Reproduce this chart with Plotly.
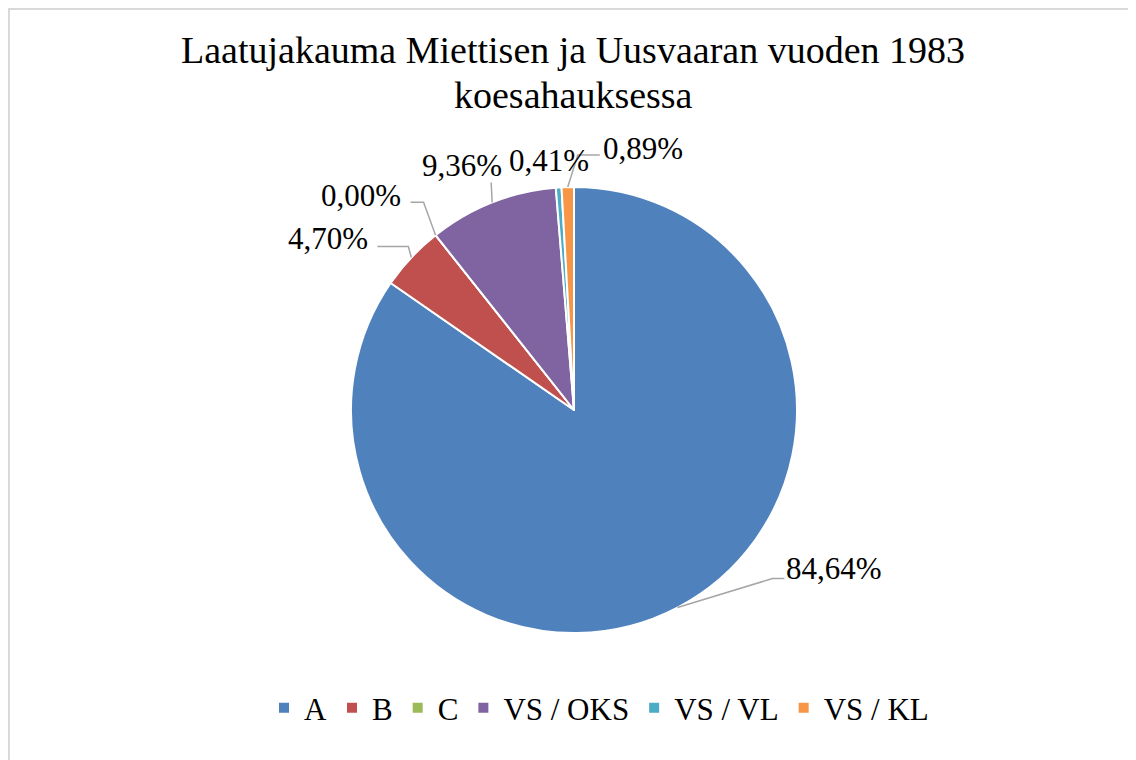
import math
import plotly.graph_objects as go

# ---- data ----
categories = ["A", "B", "C", "VS / OKS", "VS / VL", "VS / KL"]
shares = [84.64, 4.70, 0.00, 9.36, 0.41, 0.89]
title_lines = ["Laatujakauma Miettisen ja Uusvaaran vuoden 1983", "koesahauksessa"]

# ---- style ----
colors = ["#4F81BD", "#C0504D", "#9BBB59", "#8064A2", "#4BACC6", "#F79646"]
OFF = 8                      # page body margin
W, H = 1136 - OFF, 760 - OFF  # figure size
CX, CY, R = 574 - OFF, 410 - OFF, 223
FONT = "Liberation Serif, Times New Roman, serif"
# label centre offsets from slice rim-midpoint (px) and leader-line elbows
label_offsets = [(157, -39), (-83, -19), (-75, -40), (-30, -37), (-10, -27), (75, -39)]
leaders = [
    [(0, 0), (95, -29), (107, -29)],
    [(0, 0), (-3, -11), (-34, -11)],
    [(0, 0), (-12, -33), (-25, -33)],
    [(0, 0), (-1, -20)],
    None,
    [(0, 0), (10, -32), (32, -32)],
]

def px2paper(x, y):
    return x / W, 1 - y / H

fig = go.Figure()
fig.add_trace(go.Pie(
    labels=categories, values=shares, sort=False, direction="clockwise",
    rotation=0, textinfo="none", hoverinfo="label+percent",
    marker=dict(colors=colors, line=dict(color="white", width=2)),
    domain=dict(x=[(CX - R) / W, (CX + R) / W], y=[1 - (CY + R) / H, 1 - (CY - R) / H]),
))

total = sum(shares)
cum = 0.0
annotations = []
shapes = []
for i, v in enumerate(shares):
    mid = (cum + v / 2) / total * 2 * math.pi
    cum += v
    rx = CX + R * math.sin(mid)
    ry = CY - R * math.cos(mid)
    dx, dy = label_offsets[i]
    lx, ly = px2paper(rx + dx, ry + dy)
    annotations.append(dict(
        x=lx, y=ly, xref="paper", yref="paper", showarrow=False,
        text=f"{v:.2f}".replace(".", ",") + "%",
        font=dict(family=FONT, size=31, color="black"),
        xanchor="center", yanchor="middle",
    ))
    if leaders[i]:
        pts = [px2paper(rx + a, ry + b) for a, b in leaders[i]]
        path = "M " + " L ".join(f"{p[0]},{p[1]}" for p in pts)
        shapes.append(dict(type="path", path=path, xref="paper", yref="paper",
                           line=dict(color="#A6A6A6", width=1.5)))

# title (two lines)
for line, yc in zip(title_lines, [50 - OFF, 95 - OFF]):
    tx, ty = px2paper(573 - OFF, yc)
    annotations.append(dict(x=tx, y=ty, xref="paper", yref="paper", showarrow=False,
                            text=line, xanchor="center", yanchor="middle",
                            font=dict(family=FONT, size=38, color="black")))

# chart frame (only top/left visible)
shapes.append(dict(type="rect", xref="paper", yref="paper",
                   x0=1 / W, x1=1.02, y0=-0.02, y1=1 - 1 / H,
                   line=dict(color="#D9D9D9", width=2), layer="below"))

lgx, lgy = px2paper(599 - OFF, 708 - OFF)
fig.update_layout(
    width=W, height=H,
    margin=dict(l=0, r=0, t=0, b=0),
    paper_bgcolor="white", plot_bgcolor="white",
    showlegend=True,
    legend=dict(orientation="h", x=lgx, xanchor="center", y=lgy, yanchor="middle",
                font=dict(family=FONT, size=31, color="black"),
                itemclick=False, itemdoubleclick=False, traceorder="normal"),
    annotations=annotations,
    shapes=shapes,
)

fig.write_html("out.html")
